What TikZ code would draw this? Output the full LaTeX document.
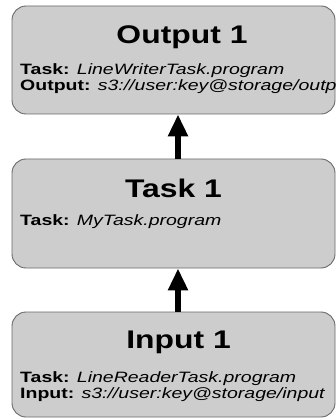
\documentclass[tikz,border=0pt]{standalone}
\usepackage{fontspec}
\newfontfamily\boxfont[FakeStretch=1.25]{Liberation Sans}
\newfontfamily\infofont[FakeStretch=1.3]{Liberation Sans}
\usepackage{xcolor}
\usetikzlibrary{positioning, arrows.meta}
\definecolor{boxgray}{RGB}{205,205,205}
\definecolor{edgegray}{RGB}{105,105,105}
\tikzset{
  stage/.style={draw=edgegray, fill=boxgray, rounded corners=14pt, minimum width=323pt, inner sep=0pt, line width=0.9pt},
  stagetitle/.style={font=\boxfont\bfseries\fontsize{25.5}{30}\selectfont, anchor=base, inner sep=0pt},
  stageinfo/.style={font=\infofont\fontsize{15}{18}\selectfont, anchor=base west, inner sep=0pt},
  flow/.style={line width=6pt, -{Triangle[width=19pt,length=22pt]}}
}

\begin{document}
\begin{tikzpicture}[x=1pt, y=-1pt]
    \useasboundingbox (0,0) rectangle (336,419);          % page size
    \node [stage, minimum height=108pt] (out) at (173.5,60) {};     % output box
    \node [stage, minimum height=109pt] (task) at (173.5,213.5) {}; % task box
    \node [stage, minimum height=105pt] (in) at (173.5,364.5) {};   % input box
    \draw [flow] ([xshift=4.5pt]task.north) -- ([xshift=4.5pt]out.south); % task to output
    \draw [flow] ([xshift=4.5pt]in.north) -- ([xshift=4.5pt]task.south);  % input to task
    \node [stagetitle] (outtitle) at (182,44) {Output 1};        % title
    \node [stagetitle] (tasktitle) at (173.5,197) {Task 1};     % title
    \node [stagetitle] (intitle) at (178.5,348) {Input 1};      % title
    \node [stageinfo] (outprog) at (20,75) {\bfseries Task: \mdseries\itshape LineWriterTask.program};
    \node [stageinfo] (outpath) at (20,91) {\bfseries Output: \mdseries\itshape s3://user:key@storage/outp};
    \node [stageinfo] (taskprog) at (20,225) {\bfseries Task: \mdseries\itshape MyTask.program};
    \node [stageinfo] (inprog) at (20,382) {\bfseries Task: \mdseries\itshape LineReaderTask.program};
    \node [stageinfo] (inpath) at (20,398) {\bfseries Input: \mdseries\itshape s3://user:key@storage/input};
\end{tikzpicture}
\end{document}
